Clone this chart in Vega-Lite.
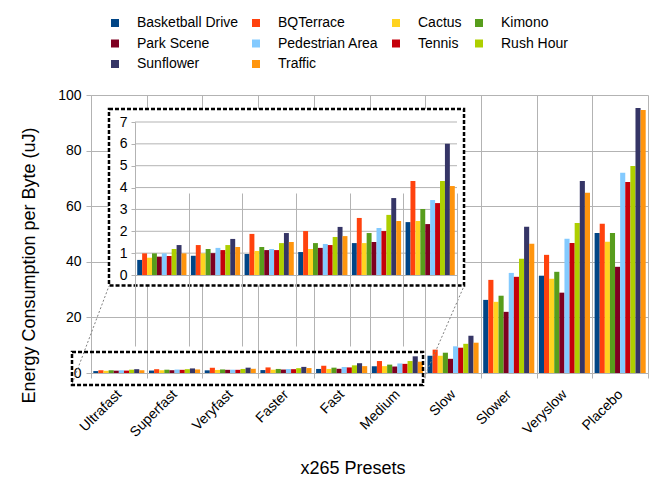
{
  "$schema": "https://vega.github.io/schema/vega-lite/v6.json",
  "width": 557,
  "height": 278,
  "autosize": {"type": "none"},
  "padding": {"left": 91, "top": 95, "right": 22, "bottom": 107},
  "background": "white",
  "config": {
    "font": "Liberation Sans",
    "view": {"stroke": null},
    "axis": {
      "labelColor": "#000000",
      "titleColor": "#000000",
      "titleFontWeight": "normal",
      "domainColor": "#b3b3b3",
      "gridColor": "#b3b3b3",
      "tickColor": "#b3b3b3",
      "labelFontSize": 14,
      "titleFontSize": 18
    },
    "legend": {
      "orient": "none",
      "legendX": 17,
      "legendY": -79,
      "direction": "horizontal",
      "columns": 4,
      "padding": 0,
      "labelFontSize": 14,
      "labelColor": "#000000",
      "labelOffset": 15,
      "symbolType": "square",
      "symbolSize": 64,
      "symbolStrokeWidth": 0,
      "symbolOpacity": 1,
      "columnPadding": 10,
      "rowPadding": 6.5,
      "labelLimit": 300
    }
  },
  "datasets": {
    "energy": [
      {"preset": "Ultrafast", "sequence": "Basketball Drive", "energy": 0.69},
      {"preset": "Ultrafast", "sequence": "BQTerrace", "energy": 0.99},
      {"preset": "Ultrafast", "sequence": "Cactus", "energy": 0.79},
      {"preset": "Ultrafast", "sequence": "Kimono", "energy": 0.99},
      {"preset": "Ultrafast", "sequence": "Park Scene", "energy": 0.84},
      {"preset": "Ultrafast", "sequence": "Pedestrian Area", "energy": 0.99},
      {"preset": "Ultrafast", "sequence": "Tennis", "energy": 0.87},
      {"preset": "Ultrafast", "sequence": "Rush Hour", "energy": 1.19},
      {"preset": "Ultrafast", "sequence": "Sunflower", "energy": 1.37},
      {"preset": "Ultrafast", "sequence": "Traffic", "energy": 0.99},
      {"preset": "Superfast", "sequence": "Basketball Drive", "energy": 0.88},
      {"preset": "Superfast", "sequence": "BQTerrace", "energy": 1.37},
      {"preset": "Superfast", "sequence": "Cactus", "energy": 0.99},
      {"preset": "Superfast", "sequence": "Kimono", "energy": 1.19},
      {"preset": "Superfast", "sequence": "Park Scene", "energy": 1.0},
      {"preset": "Superfast", "sequence": "Pedestrian Area", "energy": 1.24},
      {"preset": "Superfast", "sequence": "Tennis", "energy": 1.14},
      {"preset": "Superfast", "sequence": "Rush Hour", "energy": 1.37},
      {"preset": "Superfast", "sequence": "Sunflower", "energy": 1.65},
      {"preset": "Superfast", "sequence": "Traffic", "energy": 1.28},
      {"preset": "Veryfast", "sequence": "Basketball Drive", "energy": 0.96},
      {"preset": "Veryfast", "sequence": "BQTerrace", "energy": 1.88},
      {"preset": "Veryfast", "sequence": "Cactus", "energy": 1.1},
      {"preset": "Veryfast", "sequence": "Kimono", "energy": 1.28},
      {"preset": "Veryfast", "sequence": "Park Scene", "energy": 1.14},
      {"preset": "Veryfast", "sequence": "Pedestrian Area", "energy": 1.19},
      {"preset": "Veryfast", "sequence": "Tennis", "energy": 1.14},
      {"preset": "Veryfast", "sequence": "Rush Hour", "energy": 1.46},
      {"preset": "Veryfast", "sequence": "Sunflower", "energy": 1.92},
      {"preset": "Veryfast", "sequence": "Traffic", "energy": 1.51},
      {"preset": "Faster", "sequence": "Basketball Drive", "energy": 1.05},
      {"preset": "Faster", "sequence": "BQTerrace", "energy": 2.01},
      {"preset": "Faster", "sequence": "Cactus", "energy": 1.19},
      {"preset": "Faster", "sequence": "Kimono", "energy": 1.46},
      {"preset": "Faster", "sequence": "Park Scene", "energy": 1.24},
      {"preset": "Faster", "sequence": "Pedestrian Area", "energy": 1.42},
      {"preset": "Faster", "sequence": "Tennis", "energy": 1.37},
      {"preset": "Faster", "sequence": "Rush Hour", "energy": 1.74},
      {"preset": "Faster", "sequence": "Sunflower", "energy": 2.2},
      {"preset": "Faster", "sequence": "Traffic", "energy": 1.78},
      {"preset": "Fast", "sequence": "Basketball Drive", "energy": 1.46},
      {"preset": "Fast", "sequence": "BQTerrace", "energy": 2.61},
      {"preset": "Fast", "sequence": "Cactus", "energy": 1.46},
      {"preset": "Fast", "sequence": "Kimono", "energy": 1.92},
      {"preset": "Fast", "sequence": "Park Scene", "energy": 1.51},
      {"preset": "Fast", "sequence": "Pedestrian Area", "energy": 2.15},
      {"preset": "Fast", "sequence": "Tennis", "energy": 2.01},
      {"preset": "Fast", "sequence": "Rush Hour", "energy": 2.75},
      {"preset": "Fast", "sequence": "Sunflower", "energy": 3.52},
      {"preset": "Fast", "sequence": "Traffic", "energy": 2.47},
      {"preset": "Medium", "sequence": "Basketball Drive", "energy": 2.42},
      {"preset": "Medium", "sequence": "BQTerrace", "energy": 4.3},
      {"preset": "Medium", "sequence": "Cactus", "energy": 2.47},
      {"preset": "Medium", "sequence": "Kimono", "energy": 3.02},
      {"preset": "Medium", "sequence": "Park Scene", "energy": 2.33},
      {"preset": "Medium", "sequence": "Pedestrian Area", "energy": 3.43},
      {"preset": "Medium", "sequence": "Tennis", "energy": 3.29},
      {"preset": "Medium", "sequence": "Rush Hour", "energy": 4.3},
      {"preset": "Medium", "sequence": "Sunflower", "energy": 6.0},
      {"preset": "Medium", "sequence": "Traffic", "energy": 4.07},
      {"preset": "Slow", "sequence": "Basketball Drive", "energy": 6.2},
      {"preset": "Slow", "sequence": "BQTerrace", "energy": 8.4},
      {"preset": "Slow", "sequence": "Cactus", "energy": 6.2},
      {"preset": "Slow", "sequence": "Kimono", "energy": 7.3},
      {"preset": "Slow", "sequence": "Park Scene", "energy": 5.1},
      {"preset": "Slow", "sequence": "Pedestrian Area", "energy": 9.6},
      {"preset": "Slow", "sequence": "Tennis", "energy": 9.1},
      {"preset": "Slow", "sequence": "Rush Hour", "energy": 10.5},
      {"preset": "Slow", "sequence": "Sunflower", "energy": 13.4},
      {"preset": "Slow", "sequence": "Traffic", "energy": 10.9},
      {"preset": "Slower", "sequence": "Basketball Drive", "energy": 26.3},
      {"preset": "Slower", "sequence": "BQTerrace", "energy": 33.5},
      {"preset": "Slower", "sequence": "Cactus", "energy": 25.6},
      {"preset": "Slower", "sequence": "Kimono", "energy": 27.8},
      {"preset": "Slower", "sequence": "Park Scene", "energy": 22.0},
      {"preset": "Slower", "sequence": "Pedestrian Area", "energy": 36.0},
      {"preset": "Slower", "sequence": "Tennis", "energy": 34.6},
      {"preset": "Slower", "sequence": "Rush Hour", "energy": 41.1},
      {"preset": "Slower", "sequence": "Sunflower", "energy": 52.6},
      {"preset": "Slower", "sequence": "Traffic", "energy": 46.5},
      {"preset": "Veryslow", "sequence": "Basketball Drive", "energy": 35.0},
      {"preset": "Veryslow", "sequence": "BQTerrace", "energy": 42.5},
      {"preset": "Veryslow", "sequence": "Cactus", "energy": 33.9},
      {"preset": "Veryslow", "sequence": "Kimono", "energy": 36.4},
      {"preset": "Veryslow", "sequence": "Park Scene", "energy": 28.9},
      {"preset": "Veryslow", "sequence": "Pedestrian Area", "energy": 48.3},
      {"preset": "Veryslow", "sequence": "Tennis", "energy": 46.8},
      {"preset": "Veryslow", "sequence": "Rush Hour", "energy": 54.0},
      {"preset": "Veryslow", "sequence": "Sunflower", "energy": 69.1},
      {"preset": "Veryslow", "sequence": "Traffic", "energy": 64.8},
      {"preset": "Placebo", "sequence": "Basketball Drive", "energy": 50.4},
      {"preset": "Placebo", "sequence": "BQTerrace", "energy": 53.7},
      {"preset": "Placebo", "sequence": "Cactus", "energy": 47.2},
      {"preset": "Placebo", "sequence": "Kimono", "energy": 50.4},
      {"preset": "Placebo", "sequence": "Park Scene", "energy": 38.2},
      {"preset": "Placebo", "sequence": "Pedestrian Area", "energy": 72.0},
      {"preset": "Placebo", "sequence": "Tennis", "energy": 68.7},
      {"preset": "Placebo", "sequence": "Rush Hour", "energy": 74.5},
      {"preset": "Placebo", "sequence": "Sunflower", "energy": 95.3},
      {"preset": "Placebo", "sequence": "Traffic", "energy": 94.6}
    ]
  },
  "data": {"name": "energy"},
  "layer": [
    {
      "mark": {"type": "bar"},
      "encoding": {
        "x": {
          "field": "preset", "type": "nominal",
          "sort": ["Ultrafast", "Superfast", "Veryfast", "Faster", "Fast", "Medium", "Slow", "Slower", "Veryslow", "Placebo"],
          "scale": {"paddingInner": 0, "paddingOuter": 0},
          "axis": {
            "orient": "bottom", "title": "x265 Presets", "labelAngle": -45, "labelAlign": "right", "labelBaseline": "middle",
            "tickBand": "extent", "grid": true, "tickSize": 5, "labelPadding": 14,
            "titleX": 261.5, "titleY": 100, "titleBaseline": "alphabetic", "titleAlign": "center", "titleAnchor": null
          }
        },
        "xOffset": {
          "field": "sequence", "type": "nominal",
          "sort": ["Basketball Drive", "BQTerrace", "Cactus", "Kimono", "Park Scene", "Pedestrian Area", "Tennis", "Rush Hour", "Sunflower", "Traffic"],
          "scale": {"paddingInner": 0, "paddingOuter": 0.45}
        },
        "y": {
          "field": "energy", "type": "quantitative",
          "scale": {"domain": [0, 100], "nice": false},
          "axis": {
            "orient": "left", "values": [0, 20, 40, 60, 80, 100],
            "title": "Energy Consumption per Byte (uJ)", "grid": true, "tickSize": 5, "labelPadding": 5,
            "titleX": -57, "titleY": 170, "titleAngle": -90, "titleBaseline": "alphabetic", "titleAlign": "center", "titleAnchor": null
          }
        },
        "color": {
          "field": "sequence", "type": "nominal",
          "sort": ["Basketball Drive", "BQTerrace", "Cactus", "Kimono", "Park Scene", "Pedestrian Area", "Tennis", "Rush Hour", "Sunflower", "Traffic"],
          "scale": {
            "domain": ["Basketball Drive", "BQTerrace", "Cactus", "Kimono", "Park Scene", "Pedestrian Area", "Tennis", "Rush Hour", "Sunflower", "Traffic"],
            "range": ["#004586", "#ff420e", "#ffd320", "#579d1c", "#7e0021", "#83caff", "#c5000b", "#aecf00", "#353566", "#ff950e"]
          },
          "legend": {"title": null}
        }
      }
    },
    {
      "data": {"values": [{}]},
      "layer": [
        {
          "mark": {"type": "rect", "fill": "white", "stroke": "black", "strokeWidth": 2.5, "strokeDash": [4, 2]},
          "encoding": {
            "x": {"datum": 0.323, "type": "quantitative", "scale": {"domain": [0, 10], "nice": false, "zero": false}, "axis": null},
            "x2": {"datum": 6.697},
            "y": {"datum": 31.47, "type": "quantitative", "scale": {"domain": [0, 100], "nice": false, "zero": false}, "axis": null},
            "y2": {"datum": 94.96}
          }
        },
        {
          "mark": {"type": "rect", "fill": "white", "fillOpacity": 0, "stroke": "black", "strokeWidth": 2.5, "strokeDash": [4, 2]},
          "encoding": {
            "x": {"datum": -0.341, "type": "quantitative"},
            "x2": {"datum": 5.961},
            "y": {"datum": -4.32, "type": "quantitative"},
            "y2": {"datum": 7.55}
          }
        },
        {
          "mark": {"type": "rule", "stroke": "#808080", "strokeWidth": 1, "strokeDash": [2, 2]},
          "encoding": {
            "x": {"datum": -0.341, "type": "quantitative"},
            "x2": {"datum": 0.323},
            "y": {"datum": -3.96, "type": "quantitative"},
            "y2": {"datum": 31.3}
          }
        },
        {
          "mark": {"type": "rule", "stroke": "#808080", "strokeWidth": 1, "strokeDash": [2, 2]},
          "encoding": {
            "x": {"datum": 5.978, "type": "quantitative"},
            "x2": {"datum": 6.697},
            "y": {"datum": -1.8, "type": "quantitative"},
            "y2": {"datum": 31.3}
          }
        }
      ]
    },
    {
      "data": {"values": [{}]},
      "layer": [
        {
          "mark": {"type": "rule", "stroke": "#b3b3b3", "strokeWidth": 1},
          "encoding": {
            "x": {"datum": 0, "type": "quantitative", "scale": {"domain": [0, 1], "range": [44, 366], "nice": false, "zero": false}, "axis": null},
            "x2": {"datum": 1},
            "y": {"datum": 1, "type": "quantitative", "scale": {"domain": [0, 7], "range": [180, 27], "nice": false, "zero": false}, "axis": null}
          }
        },
        {"mark": {"type": "rule", "stroke": "#b3b3b3", "strokeWidth": 1}, "encoding": {"x": {"datum": 0, "type": "quantitative"}, "x2": {"datum": 1}, "y": {"datum": 2, "type": "quantitative"}}},
        {"mark": {"type": "rule", "stroke": "#b3b3b3", "strokeWidth": 1}, "encoding": {"x": {"datum": 0, "type": "quantitative"}, "x2": {"datum": 1}, "y": {"datum": 3, "type": "quantitative"}}},
        {"mark": {"type": "rule", "stroke": "#b3b3b3", "strokeWidth": 1}, "encoding": {"x": {"datum": 0, "type": "quantitative"}, "x2": {"datum": 1}, "y": {"datum": 4, "type": "quantitative"}}},
        {"mark": {"type": "rule", "stroke": "#b3b3b3", "strokeWidth": 1}, "encoding": {"x": {"datum": 0, "type": "quantitative"}, "x2": {"datum": 1}, "y": {"datum": 5, "type": "quantitative"}}},
        {"mark": {"type": "rule", "stroke": "#b3b3b3", "strokeWidth": 1}, "encoding": {"x": {"datum": 0, "type": "quantitative"}, "x2": {"datum": 1}, "y": {"datum": 6, "type": "quantitative"}}},
        {"mark": {"type": "rule", "stroke": "#b3b3b3", "strokeWidth": 1}, "encoding": {"x": {"datum": 0, "type": "quantitative"}, "x2": {"datum": 1}, "y": {"datum": 7, "type": "quantitative"}}}
      ]
    },
    {
      "transform": [{"filter": {"field": "preset", "oneOf": ["Ultrafast", "Superfast", "Veryfast", "Faster", "Fast", "Medium"]}}],
      "mark": {"type": "bar"},
      "encoding": {
        "x": {
          "field": "preset", "type": "nominal",
          "sort": ["Ultrafast", "Superfast", "Veryfast", "Faster", "Fast", "Medium"],
          "scale": {"range": [44, 366], "paddingInner": 0, "paddingOuter": 0},
          "axis": {"orient": "bottom", "offset": -98, "labels": false, "ticks": false, "grid": true, "tickBand": "extent", "title": null, "zindex": 1}
        },
        "xOffset": {
          "field": "sequence", "type": "nominal",
          "sort": ["Basketball Drive", "BQTerrace", "Cactus", "Kimono", "Park Scene", "Pedestrian Area", "Tennis", "Rush Hour", "Sunflower", "Traffic"],
          "scale": {"paddingInner": 0, "paddingOuter": 0.45}
        },
        "y": {
          "field": "energy", "type": "quantitative",
          "scale": {"domain": [0, 7], "range": [180, 27], "nice": false},
          "axis": {"orient": "left", "offset": -44, "values": [0, 1, 2, 3, 4, 5, 6, 7], "grid": false, "tickSize": 4, "labelPadding": 4, "title": null, "zindex": 1}
        },
        "color": {
          "field": "sequence", "type": "nominal",
          "sort": ["Basketball Drive", "BQTerrace", "Cactus", "Kimono", "Park Scene", "Pedestrian Area", "Tennis", "Rush Hour", "Sunflower", "Traffic"],
          "legend": {"title": null}
        }
      }
    }
  ],
  "resolve": {
    "scale": {"x": "independent", "y": "independent", "xOffset": "independent"},
    "axis": {"x": "independent", "y": "independent"}
  }
}
